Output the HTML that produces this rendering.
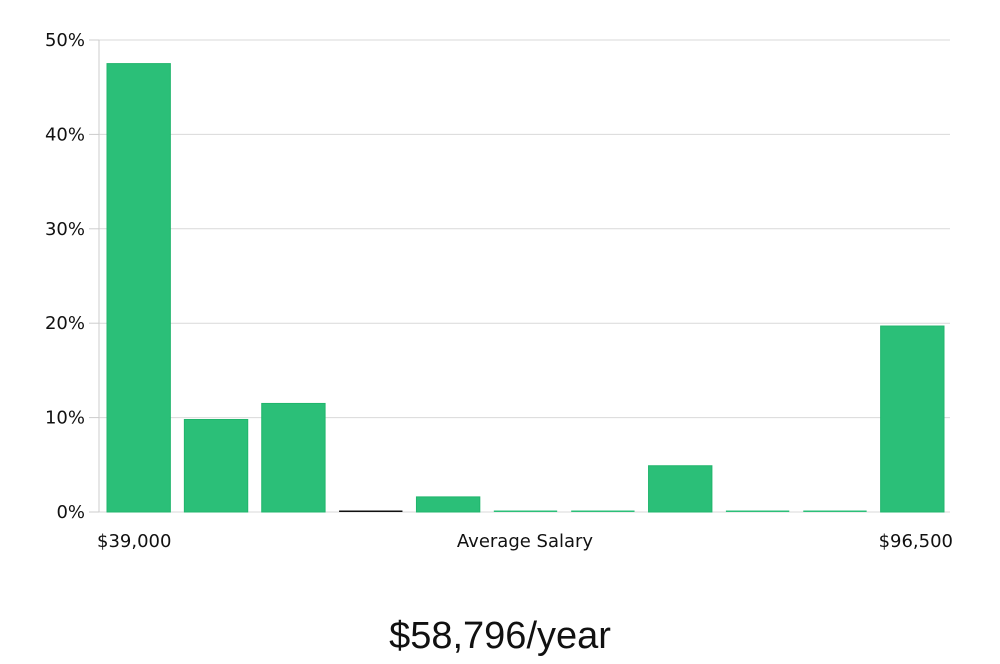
<!DOCTYPE html>
<html><head><meta charset="utf-8"><style>
body{margin:0;background:#fff;width:1000px;height:660px;overflow:hidden;font-family:"DejaVu Sans","Liberation Sans",sans-serif}
svg text{font-family:"DejaVu Sans","Liberation Sans",sans-serif}
</style></head><body>
<svg id="chart" width="1000" height="660" xmlns="http://www.w3.org/2000/svg">
<g id="grid"></g>
<g id="yaxis"></g>
<g id="bars"></g>
<text x="97" y="547" font-size="18" fill="#111">$39,000</text>
<text x="525" y="547" font-size="18" fill="#111" text-anchor="middle">Average Salary</text>
<text x="953" y="547" font-size="18" fill="#111" text-anchor="end">$96,500</text>
<text x="500" y="648" font-size="38" fill="#111" text-anchor="middle" font-family="Liberation Sans Narrow, Liberation Sans, sans-serif" style="font-family:'Liberation Sans Narrow','Liberation Sans',sans-serif">$58,796/year</text>
</svg>
<script>
const categories=["b1","b2","b3","b4","b5","b6","b7","b8","b9","b10","b11"];
const values=[47.5,9.8,11.5,0,1.6,0,0,4.9,0,0,19.7];
const yTicks=[0,10,20,30,40,50];
const yTickLabels=["0%","10%","20%","30%","40%","50%"];
const NS="http://www.w3.org/2000/svg";
const x0=99,x1=950,yBase=512,yTop=40,yMax=50;
const y=v=>yBase-(v/yMax)*(yBase-yTop);
const slot=(x1-x0)/categories.length;
const xs=i=>x0+i*slot;
function mk(tag,attrs,parent){const e=document.createElementNS(NS,tag);for(const k in attrs)e.setAttribute(k,attrs[k]);parent.appendChild(e);return e;}
const grid=document.getElementById('grid'),ya=document.getElementById('yaxis'),bars=document.getElementById('bars');
yTicks.forEach((t,i)=>{
  const g=mk('line',{x1:x0,x2:x1,y1:y(t),y2:y(t),stroke:'#d9d9d9','stroke-width':1},grid);
  
  
  const tk=mk('line',{x1:89,x2:x0,y1:y(t),y2:y(t),stroke:'#ccc','stroke-width':1},ya);
  
  
  const tx=mk('text',{x:85,y:y(t)+6,'font-size':18,'text-anchor':'end',fill:'#111'},ya);
  tx.textContent=yTickLabels[i];
  
  
});
const ax=mk('line',{x1:x0,x2:x0,y1:yTop,y2:yBase,stroke:'#ccc','stroke-width':1},ya);


values.forEach((v,i)=>{
  const bx=xs(i)+8,bw=slot-14;
  let r;
  if(v>0){
    r=mk('rect',{x:bx,y:y(v),width:bw,height:yBase-y(v),fill:'#2bbf78',stroke:'#20b56c','stroke-width':1},bars);
  }else{
    r=mk('rect',{x:bx,y:yBase-1.5,width:bw,height:1.5,fill:i===3?'#111':'#2bbf78'},bars);
  }
  
  
});
</script>
</body></html>
